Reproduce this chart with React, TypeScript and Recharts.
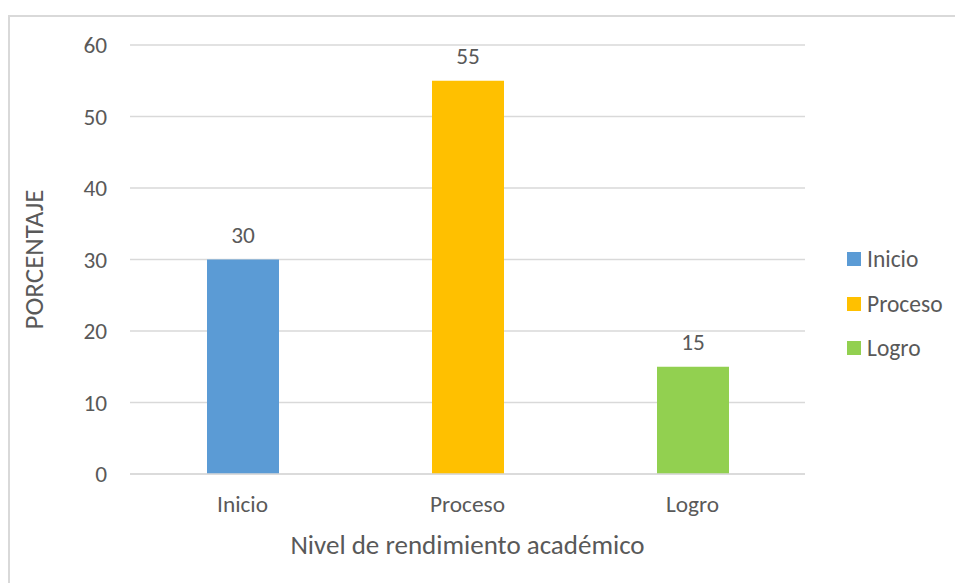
import React from 'react';
import { BarChart, Bar, Cell, XAxis, YAxis, CartesianGrid, LabelList } from 'recharts';

const categories = ['Inicio', 'Proceso', 'Logro'];
const values = [30, 55, 15];
const colors = ['#5B9BD5', '#FFC000', '#92D050'];
const yTicks = [0, 10, 20, 30, 40, 50, 60];

const FONT = 'Carlito, Calibri, Lato, sans-serif';
const TEXT = '#595959';

const data = categories.map((name, i) => ({ name, value: values[i] }));

// legend drawn next to the chart, Excel style
const LegendBox = () => (
  <div style={{ position: 'absolute', left: 847, top: 237, fontFamily: FONT, fontSize: 23.5, color: TEXT }}>
    {categories.map((c, i) => (
      <div key={c} style={{ display: 'flex', alignItems: 'center', height: 44.5 }}>
        <span style={{ width: 14, height: 14, background: colors[i], marginRight: 6, display: 'inline-block' }} />
        <span>{c}</span>
      </div>
    ))}
  </div>
);

export default function App() {
  return (
    <div style={{ position: 'absolute', left: 0, top: 0, width: 955, height: 583, overflow: 'hidden', background: '#fff' }}>
      <div
        style={{
          position: 'absolute',
          left: 8,
          top: 15,
          width: 980,
          height: 600,
          border: '2px solid #d9d9d9',
        }}
      />
      <div style={{ position: 'absolute', left: 0, top: 0 }}>
        <BarChart width={955} height={583} data={data} margin={{ top: 45, right: 150, bottom: 29, left: 0 }}>
          <CartesianGrid vertical={false} stroke="#d9d9d9" strokeWidth={1.5} />
          <XAxis
            dataKey="name"
            height={80}
            axisLine={{ stroke: '#d9d9d9', strokeWidth: 1.5 }}
            tickLine={false}
            tickSize={0}
            tickMargin={21}
            tick={{ fill: TEXT, fontSize: 23.3, fontFamily: FONT }}
            label={{ value: 'Nivel de rendimiento académico', position: 'insideBottom', offset: 0, fill: TEXT, fontSize: 27, fontFamily: FONT }}
          />
          <YAxis
            width={130}
            domain={[0, 60]}
            ticks={yTicks}
            axisLine={false}
            tickLine={false}
            tickSize={0}
            tickMargin={23}
            tick={{ fill: TEXT, fontSize: 23.3, fontFamily: FONT }}
            label={{ value: 'PORCENTAJE', angle: -90, position: 'insideLeft', offset: 33, fill: TEXT, fontSize: 27, fontFamily: FONT, style: { textAnchor: 'middle' } }}
          />
          <Bar dataKey="value" barSize={72} isAnimationActive={false}>
            {data.map((d, i) => (
              <Cell key={d.name} fill={colors[i]} />
            ))}
            <LabelList dataKey="value" position="top" offset={17} fill={TEXT} fontSize={23.3} fontFamily={FONT} />
          </Bar>
        </BarChart>
      </div>
      <LegendBox />
    </div>
  );
}
